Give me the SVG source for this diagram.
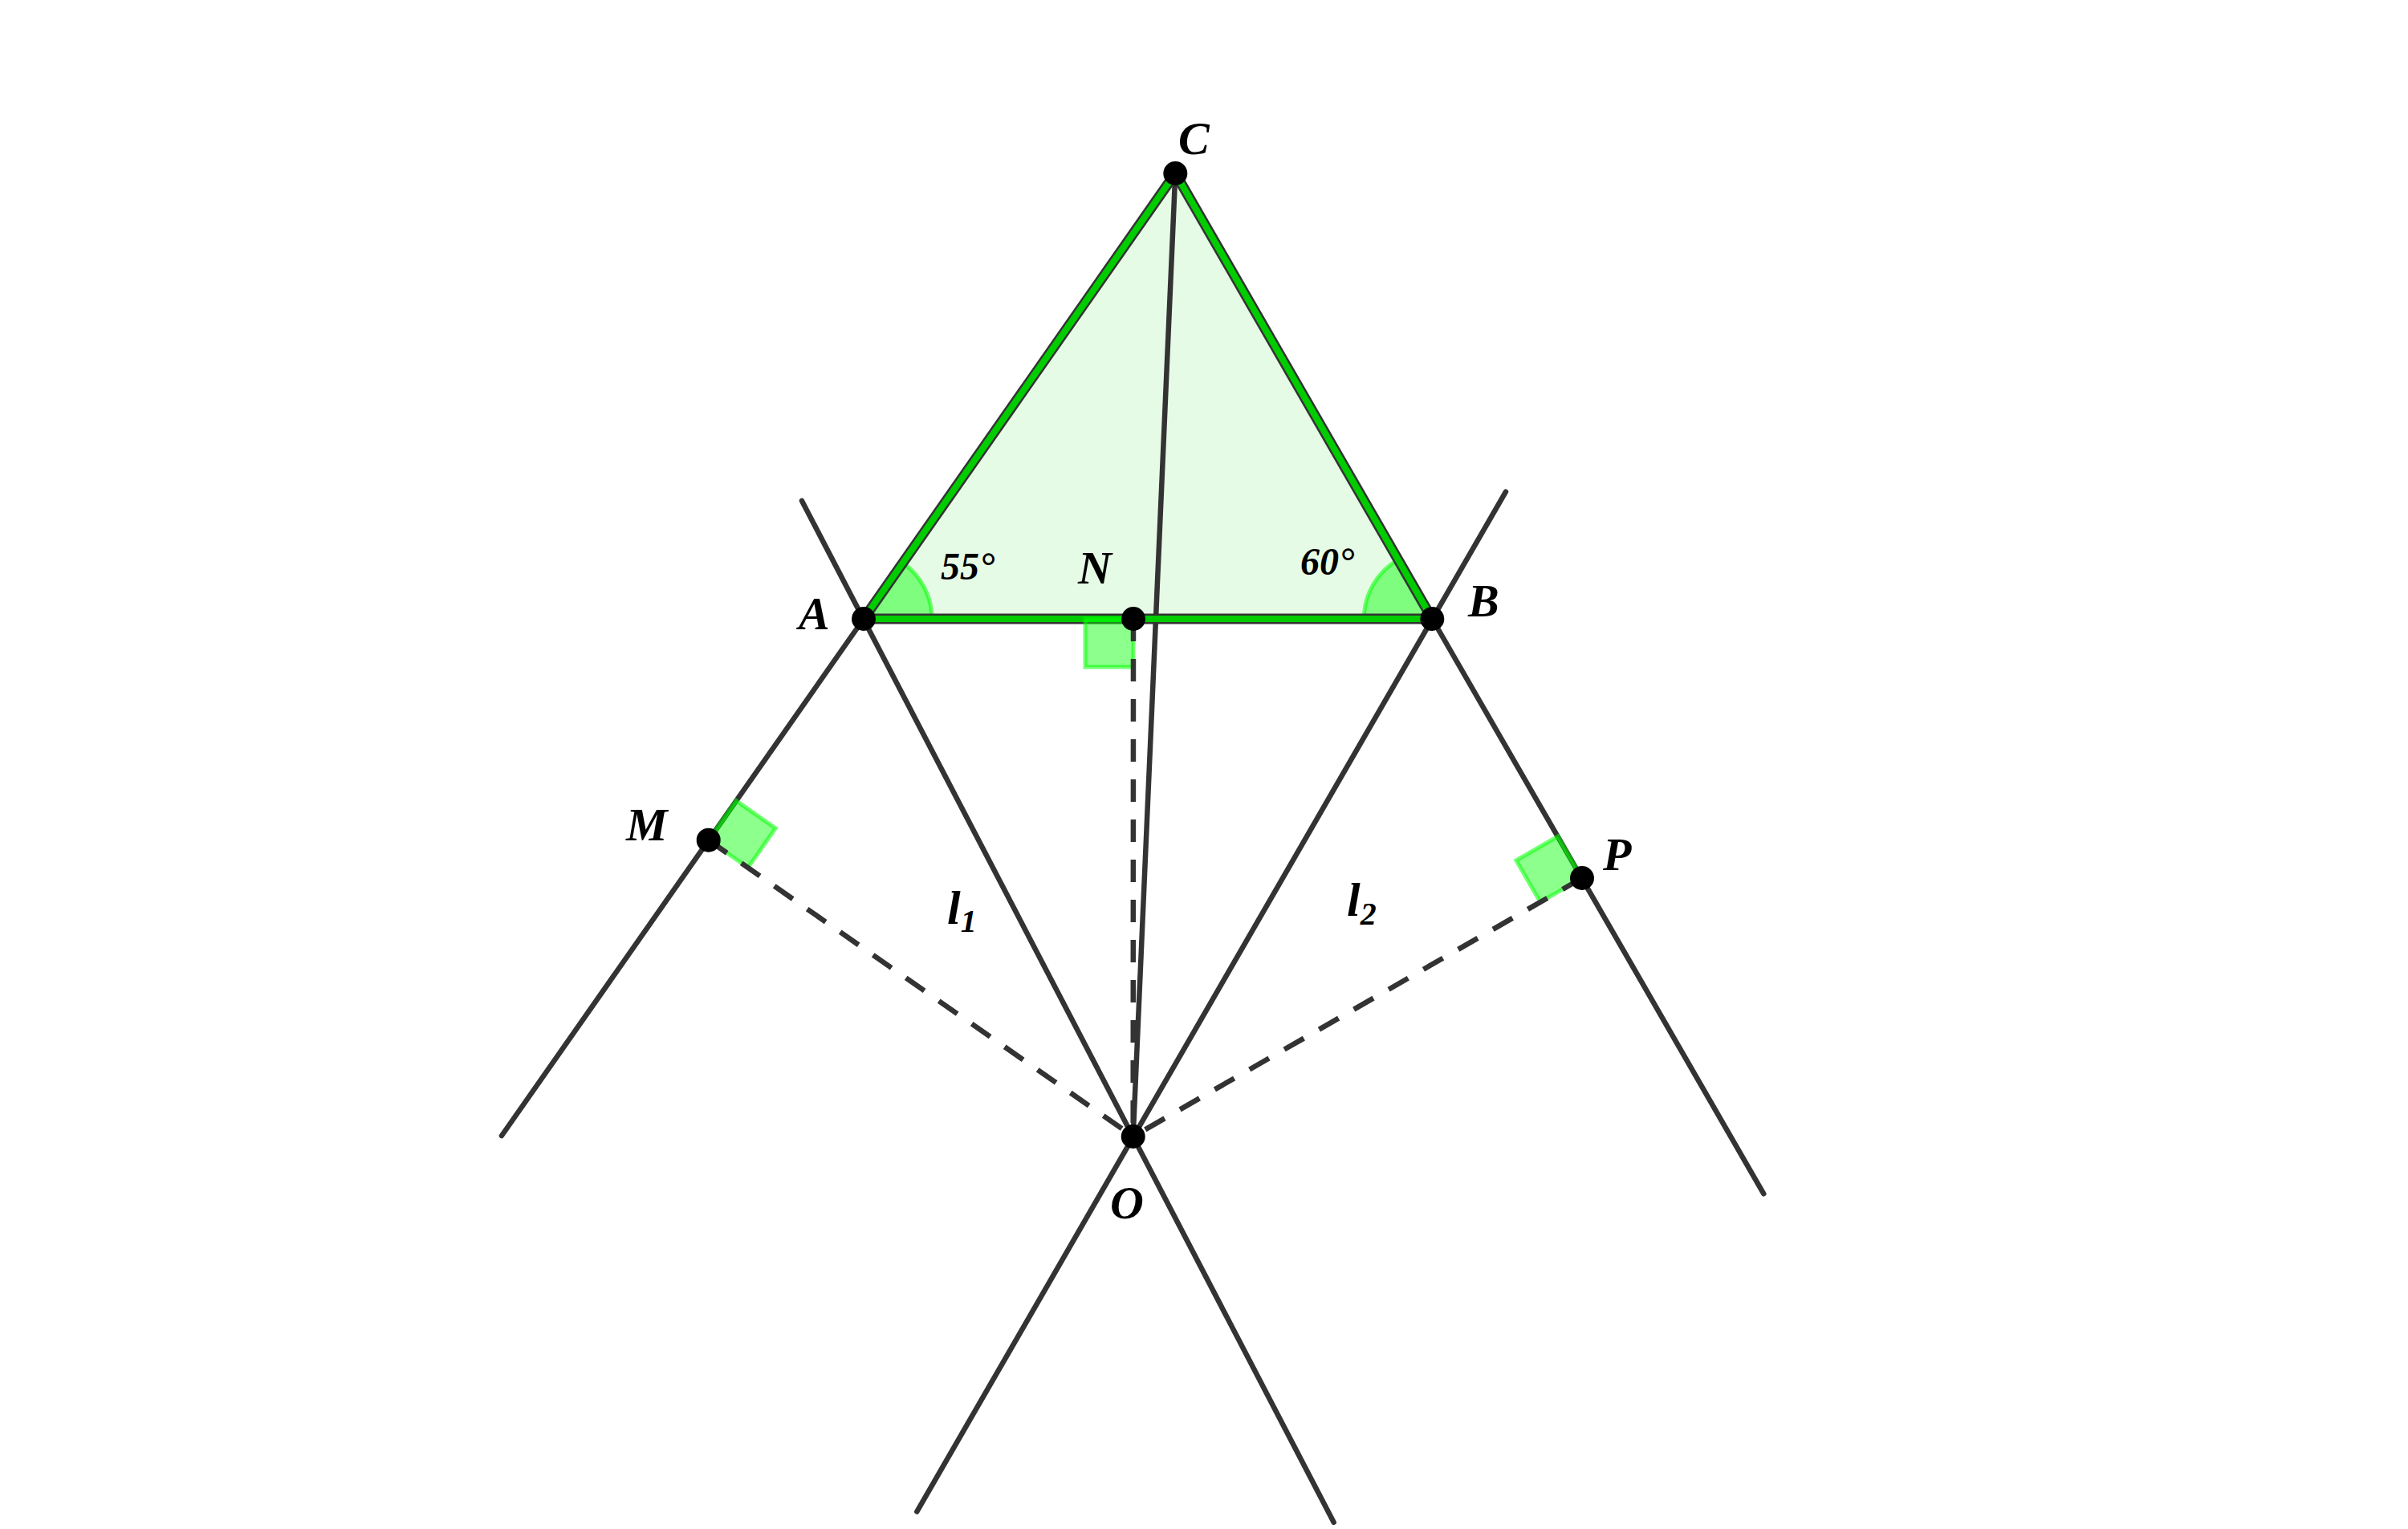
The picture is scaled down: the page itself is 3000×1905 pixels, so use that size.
<svg xmlns="http://www.w3.org/2000/svg" width="3000" height="1905" viewBox="0 0 3000 1905">
<style>
.ln{stroke:#333333;stroke-width:6.5;stroke-linecap:round;fill:none}
.ds{stroke:#333333;stroke-width:6.5;stroke-dasharray:28 22;fill:none}
.edgeO{stroke:#333333;stroke-width:13;stroke-linecap:round;stroke-linejoin:round;fill:none}
.edgeI{stroke:#00cc00;stroke-width:8;stroke-linecap:round;stroke-linejoin:round;fill:none}
.ang{fill:#00ff00;fill-opacity:0.45;stroke:#00ff00;stroke-opacity:0.55;stroke-width:5}
.pt{fill:#000000}
.lb{font-family:"Liberation Serif","DejaVu Serif",serif;font-style:italic;font-weight:bold;fill:#000000}
</style>
<rect width="3000" height="1905" fill="#ffffff"/>
<g id="triangle">
<polygon points="1076,771 1464.3,216 1784.3,771" fill="#e6fbe6"/>
<path class="ang" d="M1076,771 L1161,771 A85,85 0 0 0 1124.8,701.4 Z"/>
<path class="ang" d="M1784.3,771 L1699.3,771 A85,85 0 0 1 1741.8,697.4 Z"/>
</g>
<g id="connectors">
<line class="ln" x1="625" y1="1415" x2="1076" y2="771"/>
<line class="ln" x1="1784.3" y1="771" x2="2197.3" y2="1487.3"/>
<line class="ln" x1="999" y1="624" x2="1661.7" y2="1896.7"/>
<line class="ln" x1="1876" y1="612.7" x2="1142.3" y2="1883.3"/>
<line class="ln" x1="1464.3" y1="216" x2="1411.7" y2="1416"/>
<polygon class="edgeO" points="1076,771 1464.3,216 1784.3,771"/>
<polygon class="edgeI" points="1076,771 1464.3,216 1784.3,771"/>
<polygon class="ang" points="1412,771 1352,771 1352,831 1412,831"/>
<polygon class="ang" points="882.7,1046.7 917.1,997.6 966.3,1031.9 931.9,1081"/>
<polygon class="ang" points="1971,1094 1940.9,1042 1888.9,1072 1919,1124"/>
<line class="ds" x1="882.7" y1="1046.7" x2="1411.7" y2="1416"/>
<line class="ds" x1="1412" y1="771" x2="1411.7" y2="1416"/>
<line class="ds" x1="1971" y1="1094" x2="1411.7" y2="1416"/>
</g>
<g id="A"><circle class="pt" cx="1076" cy="771" r="15"/><text class="lb" x="995" y="784" font-size="58">A</text></g>
<g id="B"><circle class="pt" cx="1784.3" cy="771" r="15"/><text class="lb" x="1829" y="768" font-size="58">B</text></g>
<g id="C"><circle class="pt" cx="1464.3" cy="216" r="15"/><text class="lb" x="1468" y="192" font-size="58">C</text></g>
<g id="N"><circle class="pt" cx="1412" cy="771" r="15"/><text class="lb" x="1343" y="727" font-size="58">N</text></g>
<g id="M"><circle class="pt" cx="882.7" cy="1046.7" r="15"/><text class="lb" x="780" y="1047" font-size="58">M</text></g>
<g id="P"><circle class="pt" cx="1971" cy="1094" r="15"/><text class="lb" x="1997" y="1084" font-size="58">P</text></g>
<g id="O"><circle class="pt" cx="1411.7" cy="1416" r="15"/><text class="lb" x="1383" y="1518" font-size="58">O</text></g>
<g id="angleA"><text class="lb" x="1172" y="722" font-size="48">55°</text></g>
<g id="angleB"><text class="lb" x="1620" y="716" font-size="48">60°</text></g>
<g id="l1"><text class="lb" x="1180" y="1151" font-size="60">l<tspan font-size="40" dy="10">1</tspan></text></g>
<g id="l2"><text class="lb" x="1678" y="1141" font-size="60">l<tspan font-size="40" dy="11">2</tspan></text></g>
</svg>
